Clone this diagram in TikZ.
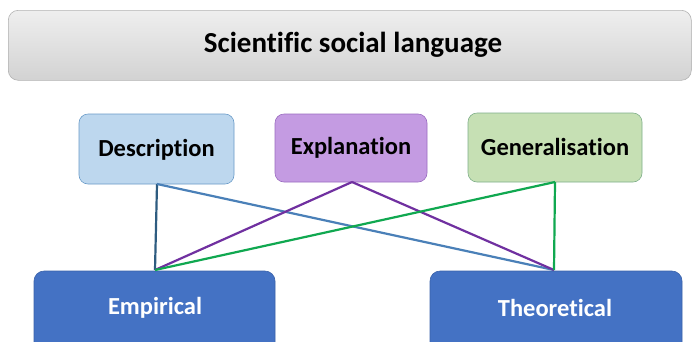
\documentclass[tikz,border=0pt]{standalone}
\usepackage{fontspec}
\setmainfont[Ligatures={NoCommon}]{Carlito}
\definecolor{descfill}{HTML}{BDD7EE}
\definecolor{descedge}{HTML}{6A9BC8}
\definecolor{explfill}{HTML}{C49BE2}
\definecolor{expledge}{HTML}{9A6CC0}
\definecolor{genfill}{HTML}{C6E0B4}
\definecolor{genedge}{HTML}{7FAF8A}
\definecolor{bottomfill}{HTML}{4472C4}
\definecolor{bottomedge}{HTML}{3A62AA}
\definecolor{lineblue}{HTML}{4A80B8}
\definecolor{linedark}{HTML}{2E5C80}
\definecolor{linepurple}{HTML}{7030A0}
\definecolor{linegreen}{HTML}{10A850}
\tikzset{
  topbox/.style={rounded corners=9pt, draw=#1edge, fill=#1fill, line width=0.6pt},
  toptext/.style={text=black, font=\bfseries\fontsize{24.5}{28}\selectfont},
  bottombox/.style={rounded corners=10pt, draw=bottomedge, fill=bottomfill, line width=0.6pt},
  bottomtext/.style={text=white, font=\bfseries\fontsize{24.5}{28}\selectfont},
  conn/.style={line width=2.2pt}
}
\begin{document}
\begin{tikzpicture}[x=1pt,y=-1pt]
\useasboundingbox[clip] (0,0) rectangle (692,341);
\fill[white] (0,0) rectangle (692,341);
% title
\node[draw=gray!60, rounded corners=10pt, top color=gray!13, bottom color=gray!35, line width=0.6pt,
  minimum width=683pt, minimum height=70pt, anchor=north west] (title) at (8,10) {};
\node[font=\bfseries\fontsize{29}{33}\selectfont] (titletext) at (353,45) {Scientific social language};
% top boxes
\draw[topbox=desc] (79,114) rectangle (234,184);
\node[toptext] (desc) at (156.5,150) {Description};
\coordinate (descb) at (157,184);
\draw[topbox=expl] (275,114) rectangle (427,182);
\node[toptext] (expl) at (351,148) {Explanation};
\coordinate (explb) at (352,182);
\draw[topbox=gen] (468,113) rectangle (642,182);
\node[toptext] (gen) at (555,147) {Generalisation};
\coordinate (genb) at (555,182);
% bottom boxes
\draw[bottombox] (34,271) rectangle (275,370);
\node[bottomtext] (emp) at (155,308) {Empirical};
\coordinate (empt) at (155,270);
\draw[bottombox] (430,271) rectangle (682,370);
\node[bottomtext] (theo) at (555,308) {Theoretical};
\coordinate (theot) at (554,270);
% connectors
\draw[conn, linedark] (descb) -- (empt);
\draw[conn, lineblue] (descb) -- (theot);
\draw[conn, linepurple] (explb) -- (empt);
\draw[conn, linepurple] (explb) -- (theot);
\draw[conn, linegreen] (genb) -- (empt);
\draw[conn, linegreen] (genb) -- (theot);
\end{tikzpicture}
\end{document}
